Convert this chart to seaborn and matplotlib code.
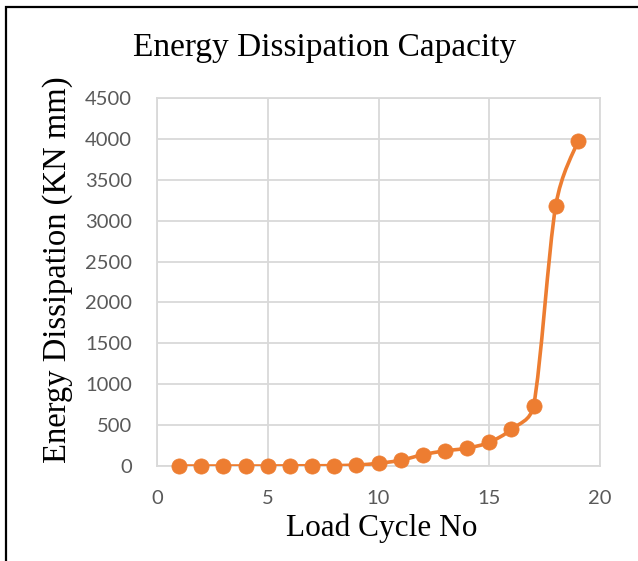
import numpy as np
import pandas as pd
import seaborn as sns
import matplotlib
matplotlib.use("Agg")
import matplotlib.pyplot as plt
from matplotlib.path import Path
from matplotlib.patches import PathPatch, Rectangle

# ---- data ----
load_cycle = [1, 2, 3, 4, 5, 6, 7, 8, 9, 10, 11, 12, 13, 14, 15, 16, 17, 18, 19]
energy = [0, 0, 0, 0, 0, 2, 3, 5, 12, 33, 70, 138, 185, 218, 290, 449, 737, 3180, 3970]
x_ticks = [0, 5, 10, 15, 20]
y_ticks = [0, 500, 1000, 1500, 2000, 2500, 3000, 3500, 4000, 4500]
title = "Energy Dissipation Capacity"
x_label = "Load Cycle No"
y_label = "Energy Dissipation (KN mm)"

orange = "#ED7D31"
grid_c = "#D9D9D9"
tick_c = "#595959"

sns.set_theme(style="white")
plt.rcParams['font.family'] = ['Lato', 'DejaVu Sans']

df = pd.DataFrame({"cycle": load_cycle, "energy": energy})

fig = plt.figure(figsize=(6.38, 5.61), dpi=100)
ax = fig.add_axes([157/638, 1-466/561, (600-157)/638, (466-98)/561])
ax.set_xlim(0, 20)
ax.set_ylim(0, 4500)

# smooth line (Excel-like Bezier smoothing through the data points, computed in display space)
pts = ax.transData.transform(np.column_stack([load_cycle, energy]).astype(float))
n = len(pts)
verts = [tuple(pts[0])]
codes = [Path.MOVETO]
for i in range(n - 1):
    p0 = pts[max(i-1, 0)]
    p1 = pts[i]
    p2 = pts[i+1]
    p3 = pts[min(i+2, n-1)]
    chord = np.linalg.norm(p2 - p1)
    h1 = (p2 - p0) / 6
    h2 = (p3 - p1) / 6
    lim = 0.5 * chord
    if np.linalg.norm(h1) > lim:
        h1 = h1 / np.linalg.norm(h1) * lim
    if np.linalg.norm(h2) > lim:
        h2 = h2 / np.linalg.norm(h2) * lim
    verts += [tuple(p1 + h1), tuple(p2 - h2), tuple(p2)]
    codes += [Path.CURVE4]*3
data_verts = ax.transData.inverted().transform(np.array(verts))
ax.add_patch(PathPatch(Path(data_verts, codes), facecolor="none", edgecolor=orange,
                       lw=2.6, zorder=3, capstyle="round", joinstyle="round"))

sns.scatterplot(data=df, x="cycle", y="energy", ax=ax, color=orange, s=120,
                edgecolor=orange, linewidth=0.5, zorder=4, clip_on=False)

ax.set_xlim(0, 20)
ax.set_ylim(0, 4500)
ax.set_xticks(x_ticks)
ax.set_yticks(y_ticks)
ax.grid(True, color=grid_c, lw=1.3)
ax.set_axisbelow(True)
for s in ax.spines.values():
    s.set_color(grid_c)
    s.set_linewidth(1.3)
ax.tick_params(axis='both', length=0, labelsize=14.5, labelcolor=tick_c)
ax.tick_params(axis='x', pad=17)
ax.tick_params(axis='y', pad=18)

ax.set_xlabel("")
ax.set_ylabel("")
fig.text(325/638, 1-48/561, title, ha="center", va="center",
         family="Liberation Serif", fontsize=24, color="black")
fig.text(382/638, 1-528/561, x_label, ha="center", va="center",
         family="Liberation Serif", fontsize=22.5, color="black")
fig.text(58/638, 1-270/561, y_label, ha="center", va="center", rotation=90,
         family="Liberation Serif", fontsize=23.5, color="black")

# outer chart border
fig.add_artist(Rectangle((6/638, -0.05), 1.0, 1-7/561+0.05, transform=fig.transFigure,
                         fill=False, edgecolor="black", lw=1.6))

fig.savefig("out.png", dpi=100)
